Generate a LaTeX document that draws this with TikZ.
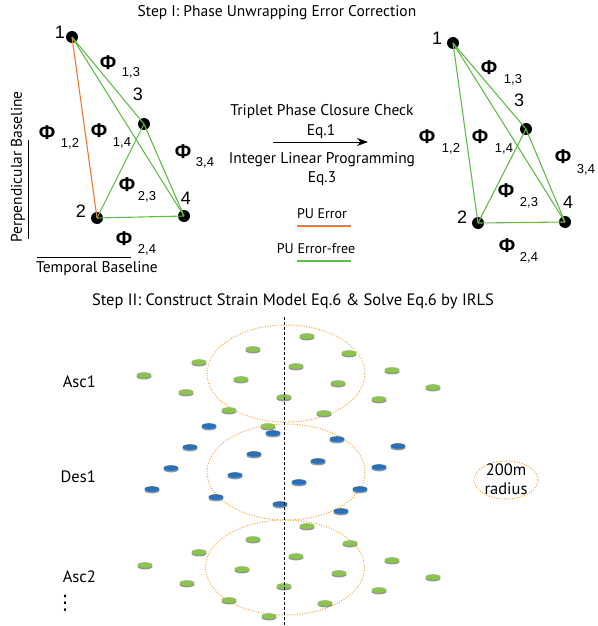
\documentclass[tikz,border=0pt]{standalone}
\usepackage{fontspec}
\setmainfont{PT Sans}
\newfontfamily\arialfont{Liberation Sans}
\newfontfamily\symfont{DejaVu Sans}
\usetikzlibrary{arrows.meta}
\definecolor{pugreen}{RGB}{98,186,74}
\definecolor{puorange}{RGB}{240,120,48}
\definecolor{ptgreen}{RGB}{140,196,80}
\definecolor{ptblue}{RGB}{40,112,184}
\definecolor{ptshadow}{RGB}{150,150,150}
\definecolor{radorange}{RGB}{245,165,55}
\tikzset{
  x=1pt, y=-1pt,
  txt/.style={font=\fontsize{15.5}{17}\selectfont, inner sep=0pt},
  smalltxt/.style={font=\fontsize{14}{16}\selectfont, inner sep=0pt},
  bigtxt/.style={font=\fontsize{16.5}{18}\selectfont, inner sep=0pt},
  vtx/.style={circle, fill=black, minimum size=12pt, inner sep=0pt},
  vlabel/.style={font=\arialfont\fontsize{18}{20}\selectfont, inner sep=0pt},
  phisym/.style={font=\arialfont\bfseries\fontsize{20}{22}\selectfont, inner sep=0pt},
  phisub/.style={font=\arialfont\fontsize{13}{15}\selectfont, inner sep=0pt},
  okedge/.style={draw=pugreen, line width=1.1pt},
  badedge/.style={draw=puorange, line width=1.1pt},
  radius ring/.style={draw=radorange, line width=1pt, dash pattern=on 1pt off 1.6pt},
  pics/coin/.style={code={
    \fill[ptshadow] (0,1.6) ellipse (7.5 and 2.8);
    \fill[#1] (0,0) ellipse (7.5 and 2.8);
  }}
}
\begin{document}
\begin{tikzpicture}
\useasboundingbox (0,0) rectangle (597,626);

% ---------- Step I ----------
\node[txt] (titleA) at (277,13) {Step I: Phase Unwrapping Error Correction};

% left network (before correction)
\node[vtx] (L1) at (72,37) {};
\node[vtx] (L2) at (97,218) {};
\node[vtx] (L3) at (144,124) {};
\node[vtx] (L4) at (184,216) {};
\node[vlabel] (L1t) at (60,32) {1};
\node[vlabel] (L2t) at (81,211) {2};
\node[vlabel] (L3t) at (138,94) {3};
\node[vlabel] (L4t) at (186,198) {4};
\draw[badedge] (L1.center) -- (L2.center);
\draw[okedge] (L1.center) -- (L3.center);
\draw[okedge] (L1.center) -- (L4.center);
\draw[okedge] (L3.center) -- (L2.center);
\draw[okedge] (L3.center) -- (L4.center);
\draw[okedge] (L2.center) -- (L4.center);

\node[phisym] (Lp13) at (108,63) {Φ};  \node[phisub] (Lp13s) at (131,73) {1,3};
\node[phisym] (Lp12) at (47,133) {Φ};  \node[phisub] (Lp12s) at (70,144) {1,2};
\node[phisym] (Lp14) at (99,131) {Φ};  \node[phisub] (Lp14s) at (122,143) {1,4};
\node[phisym] (Lp34) at (183,152) {Φ}; \node[phisub] (Lp34s) at (205,163) {3,4};
\node[phisym] (Lp23) at (127,185) {Φ}; \node[phisub] (Lp23s) at (147,197) {2,3};
\node[phisym] (Lp24) at (124,239) {Φ}; \node[phisub] (Lp24s) at (147,250) {2,4};

% baseline axes
\coordinate (pbTop) at (28,140);
\coordinate (pbBot) at (28,239);
\draw[line width=0.9pt] (pbTop) -- (pbBot);
\node[txt, rotate=90] (pbText) at (18,167) {Perpendicular Baseline};
\coordinate (tbL) at (37,257);
\coordinate (tbR) at (131,257);
\draw[line width=0.9pt] (tbL) -- (tbR);
\node[txt] (tbText) at (97,269) {Temporal Baseline};

% correction arrow and legend
\node[txt] (chk) at (322,112) {Triplet Phase Closure Check};
\node[txt] (eq1) at (321,132) {Eq.1};
\coordinate (arL) at (273,142);
\coordinate (arR) at (368,142);
\draw[line width=1pt, -{Stealth[length=11pt,width=8pt]}] (arL) -- (arR);
\node[txt] (ilp) at (322,160) {Integer Linear Programming};
\node[txt] (eq3) at (322,179) {Eq.3};
\node[smalltxt] (legE) at (322,214) {PU Error};
\coordinate (legEa) at (297,226);
\coordinate (legEb) at (351,226);
\draw[badedge] (legEa) -- (legEb);
\node[smalltxt] (legF) at (316,249) {PU Error-free};
\coordinate (legFa) at (297,261);
\coordinate (legFb) at (351,261);
\draw[okedge] (legFa) -- (legFb);

% right network (after correction)
\node[vtx] (R1) at (453,43) {};
\node[vtx] (R2) at (478,223) {};
\node[vtx] (R3) at (526,129) {};
\node[vtx] (R4) at (565,222) {};
\node[vlabel] (R1t) at (437,38) {1};
\node[vlabel] (R2t) at (462,217) {2};
\node[vlabel] (R3t) at (519,100) {3};
\node[vlabel] (R4t) at (568,202) {4};
\draw[okedge] (R1.center) -- (R2.center);
\draw[okedge] (R1.center) -- (R3.center);
\draw[okedge] (R1.center) -- (R4.center);
\draw[okedge] (R3.center) -- (R2.center);
\draw[okedge] (R3.center) -- (R4.center);
\draw[okedge] (R2.center) -- (R4.center);

\node[phisym] (Rp13) at (489,68) {Φ};  \node[phisub] (Rp13s) at (513,80) {1,3};
\node[phisym] (Rp12) at (427,137) {Φ}; \node[phisub] (Rp12s) at (451,149) {1,2};
\node[phisym] (Rp14) at (480,137) {Φ}; \node[phisub] (Rp14s) at (504,149) {1,4};
\node[phisym] (Rp34) at (563,157) {Φ}; \node[phisub] (Rp34s) at (586,170) {3,4};
\node[phisym] (Rp23) at (506,191) {Φ}; \node[phisub] (Rp23s) at (529,203) {2,3};
\node[phisym] (Rp24) at (507,246) {Φ}; \node[phisub] (Rp24s) at (529,258) {2,4};

% ---------- Step II ----------
\node[bigtxt] (titleB) at (293,301) {Step II: Construct Strain Model Eq.6 \& Solve Eq.6 by IRLS};

% search windows
\draw[radius ring] (286,373.5) ellipse (79 and 48.5);
\draw[radius ring] (286,472) ellipse (79 and 48);
\draw[radius ring] (285,567.5) ellipse (79.5 and 47.5);

% Asc1 points
\foreach \px/\py in {307/336, 253/349, 349/353, 199/362, 296/366, 392/370,
  144/375, 241/379, 338/383, 433/387, 186/392, 284/397, 379/399,
  229/410, 324/413, 268/426}
  \pic at (\px,\py) {coin=ptgreen};
% Des1 points
\foreach \px/\py in {209/426, 273/433, 337/439, 190/447, 398/446, 254/454,
  318/461, 171/468, 379/467, 235/475, 299/482, 152/489, 360/489,
  216/497, 280/504, 341/511}
  \pic at (\px,\py) {coin=ptblue};
% Asc2 points
\foreach \px/\py in {307/526, 253/539, 350/543, 199/552, 296/556, 392/560,
  145/565, 242/569, 339/573, 433/577, 187/583, 284/586, 379/590,
  229/600, 325/603, 269/616}
  \pic at (\px,\py) {coin=ptgreen};

% centre line
\coordinate (clTop) at (284,317);
\coordinate (clBot) at (284,626);
\draw[line width=0.9pt, dash pattern=on 3pt off 2pt] (clTop) -- (clBot);

% track labels
\node[bigtxt, anchor=east] (asc1) at (96,382) {Asc1};
\node[bigtxt, anchor=east] (des1) at (96,477) {Des1};
\node[bigtxt, anchor=east] (asc2) at (96,577) {Asc2};
\node[font=\symfont\fontsize{20}{22}\selectfont, inner sep=0pt] (more) at (65,603) {⋮};

% radius key
\draw[radius ring] (506,480) ellipse (32 and 19);
\node[bigtxt] (rad1) at (506,470) {200m};
\node[bigtxt] (rad2) at (506,489) {radius};
\end{tikzpicture}
\end{document}
